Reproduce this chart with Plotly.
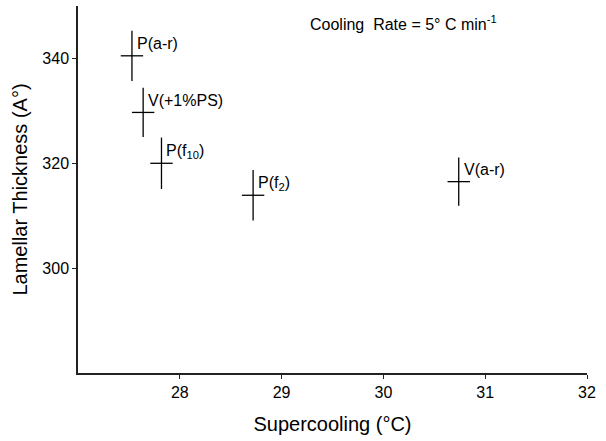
import plotly.graph_objects as go

# Data
labels = ["P(a-r)", "V(+1%PS)", "P(f<sub>10</sub>)", "P(f<sub>2</sub>)", "V(a-r)"]
supercooling = [27.53, 27.64, 27.82, 28.72, 30.74]
thickness = [340.5, 329.7, 320.0, 313.9, 316.5]
thickness_err = [4.8, 4.7, 4.9, 4.8, 4.6]
supercooling_err = [0.11, 0.11, 0.11, 0.11, 0.11]

x_ticks = [28, 29, 30, 31, 32]
y_ticks = [300, 320, 340]

FONT = "Liberation Sans"

fig = go.Figure()
fig.add_trace(go.Scatter(
    x=supercooling, y=thickness, mode="markers",
    marker=dict(size=1, color="black"),
    error_y=dict(type="data", array=thickness_err, color="black", thickness=1.3, width=0),
    error_x=dict(type="data", array=supercooling_err, color="black", thickness=1.3, width=0),
    showlegend=False, hoverinfo="skip",
))

for xv, yv, lab in zip(supercooling, thickness, labels):
    fig.add_annotation(x=xv, y=yv, text=lab, showarrow=False,
                       xanchor="left", yanchor="middle", xshift=3, yshift=12,
                       font=dict(family=FONT, size=16, color="black"))

fig.add_annotation(xref="paper", yref="paper", x=0.451, y=0.955,
                   text="Cooling  Rate = 5° C min<sup>-1</sup>", showarrow=False,
                   xanchor="left", yanchor="middle",
                   font=dict(family=FONT, size=16, color="black"))

fig.update_layout(
    width=606, height=441,
    margin=dict(l=78, r=19, t=6, b=68),
    paper_bgcolor="white", plot_bgcolor="white",
    font=dict(family=FONT, color="black"),
    xaxis=dict(range=[27, 32], tickvals=x_ticks, ticks="outside", ticklen=4,
               tickwidth=1.3, tickcolor="#222", showline=True, linecolor="#222",
               linewidth=1.5, showgrid=False, zeroline=False, automargin=False,
               tickfont=dict(family=FONT, size=16),
               title=dict(text="Supercooling (°C)", font=dict(family=FONT, size=20), standoff=17)),
    yaxis=dict(range=[280, 350], tickvals=y_ticks, ticks="outside", ticklen=4,
               tickwidth=1.3, tickcolor="#222", showline=True, linecolor="#222",
               linewidth=1.5, showgrid=False, zeroline=False, automargin=False,
               tickfont=dict(family=FONT, size=16),
               title=dict(text="Lamellar Thickness (A°)", font=dict(family=FONT, size=20), standoff=9)),
)

fig.write_html("out.html", config={"displayModeBar": False},
               post_script="document.body.style.margin='0';")
